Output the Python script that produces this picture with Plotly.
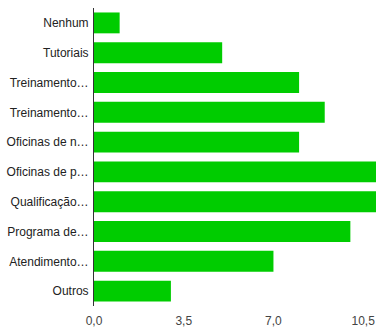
import plotly.graph_objects as go

# Response categories (top to bottom) and their counts
categories = [
    "Nenhum", "Tutoriais", "Treinamento…", "Treinamento…", "Oficinas de n…",
    "Oficinas de p…", "Qualificação…", "Programa de…", "Atendimento…", "Outros",
]
counts = [1, 5, 8, 9, 8, 11, 11, 10, 7, 3]
x_ticks = [0, 3.5, 7, 10.5]
x_tick_labels = ["0,0", "3,5", "7,0", "10,5"]

positions = list(range(len(categories)))

fig = go.Figure(
    go.Bar(
        x=counts,
        y=positions,
        orientation="h",
        marker=dict(color="#00cc00", line=dict(width=0)),
        width=0.7,
        hoverinfo="x+y",
    )
)

fig.update_layout(
    width=376,
    height=329,
    margin=dict(l=94, r=0, t=8, b=23),
    paper_bgcolor="white",
    plot_bgcolor="white",
    showlegend=False,
    font=dict(family="Liberation Sans, Arial, sans-serif", size=12, color="#222222"),
)

fig.update_xaxes(
    range=[0, 11],
    tickvals=x_ticks,
    ticktext=x_tick_labels,
    showgrid=False,
    zeroline=False,
    showline=False,
    ticks="",
    ticklabelstandoff=6,
    tickfont=dict(size=12, color="#444444"),
)

fig.update_yaxes(
    tickvals=positions,
    ticktext=categories,
    range=[len(categories) - 0.5, -0.5],
    showgrid=False,
    zeroline=False,
    showline=True,
    linecolor="#333333",
    linewidth=1,
    ticks="",
    ticklabelstandoff=2,
    tickfont=dict(size=12, color="#222222"),
)

fig.write_html("out.html")
